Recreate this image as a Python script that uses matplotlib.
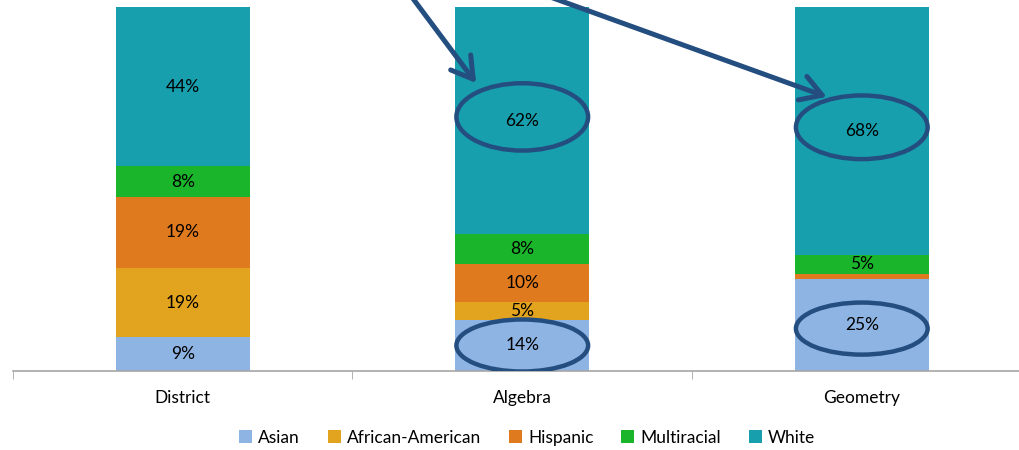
import numpy as np
import matplotlib
matplotlib.use("Agg")
import matplotlib.pyplot as plt
from matplotlib.patches import Ellipse

plt.rcParams['font.family'] = ['Lato', 'DejaVu Sans']

categories = ['District', 'Algebra', 'Geometry']
groups = ['Asian', 'African-American', 'Hispanic', 'Multiracial', 'White']
asian = [9.2, 14.0, 25.3]
african_american = [19.2, 5.0, 0.0]
hispanic = [19.4, 10.4, 1.4]
multiracial = [8.4, 8.2, 5.2]
white = [43.8, 62.4, 68.1]
series = [asian, african_american, hispanic, multiracial, white]
colors = ['#8EB4E3', '#E2A31E', '#E07A1F', '#1BB52B', '#179FAD']
# (category, group, height, vertical nudge) for the circled labels
circled = [(1, 0, 14.3, 0.0), (1, 4, 18.5, 1.0), (2, 0, 14.3, -1.0), (2, 4, 17.5, 1.0)]
ring = '#244E80'

fig = plt.figure(figsize=(10.2, 4.5), dpi=100)
ax = fig.add_axes([0.0127, 0.1756, 0.9873, 0.8089])

x = np.arange(len(categories))
bottom = np.zeros(len(categories))
mids = {}
for g, (vals, c) in enumerate(zip(series, colors)):
    vals = np.array(vals)
    ax.bar(x, vals, 0.395, bottom=bottom, color=c, label=groups[g], zorder=2)
    for i, v in enumerate(vals):
        mids[(i, g)] = bottom[i] + v / 2
        if v >= 3:
            ax.text(x[i], bottom[i] + v / 2, f'{round(v)}%', ha='center', va='center',
                    fontsize=12.5, color='black', zorder=4)
    bottom += vals

for (i, g, h, dy) in circled:
    ax.add_patch(Ellipse((x[i], mids[(i, g)] + dy), 0.388, h,
                         fill=False, edgecolor=ring, linewidth=3.2, zorder=5))

# arrows coming in from above the chart
arrow_kw = dict(arrowstyle='->, head_length=1.0, head_width=0.6', color=ring,
                lw=3.6, mutation_scale=15, shrinkA=0, shrinkB=0)
ax.annotate('', xy=(0.864, 79.1), xytext=(0.659, 104.7), arrowprops=arrow_kw,
            annotation_clip=False, zorder=6)
ax.annotate('', xy=(1.897, 75.3), xytext=(1.024, 104.7), arrowprops=arrow_kw,
            annotation_clip=False, zorder=6)

ax.set_xlim(-0.5, 2.466)
ax.set_ylim(0, 100)
ax.set_yticks([])
ax.set_xticks(x)
ax.set_xticklabels(categories, fontsize=12.5)
ax.tick_params(axis='x', which='major', length=0, pad=14)
ax.set_xticks([-0.5, 0.5, 1.5], minor=True)
ax.tick_params(axis='x', which='minor', length=6, color='#A6A6A6', direction='out')
for s in ['top', 'right', 'left']:
    ax.spines[s].set_visible(False)
ax.spines['bottom'].set_color('#A6A6A6')
ax.spines['bottom'].set_linewidth(1.2)
ax.spines['bottom'].set_zorder(3)

fig.legend(loc='center', bbox_to_anchor=(0.517, 0.027), ncol=5, frameon=False,
           fontsize=12.5, handlelength=0.75, handleheight=0.75, handletextpad=0.35,
           columnspacing=1.6)

fig.savefig('out.png', dpi=100)
